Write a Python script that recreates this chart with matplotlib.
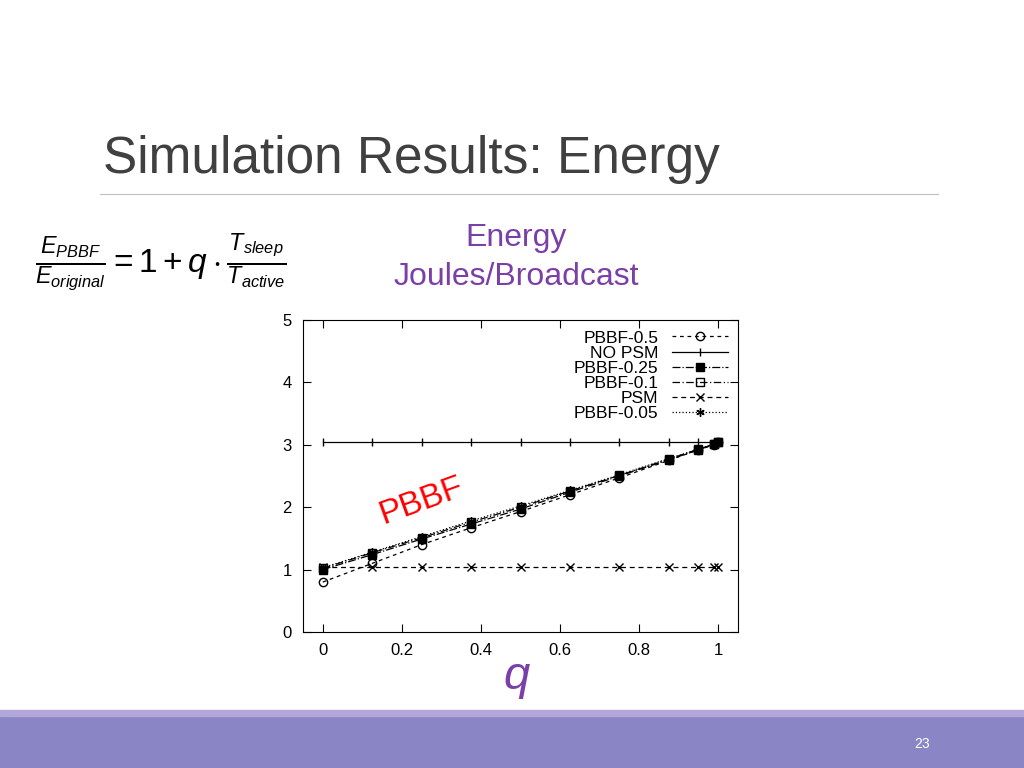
import matplotlib
matplotlib.use("Agg")
import matplotlib.pyplot as plt
from matplotlib.patches import Rectangle
from matplotlib.lines import Line2D

plt.rcParams['font.family'] = ['Liberation Sans', 'DejaVu Sans']
plt.rcParams['mathtext.fontset'] = 'custom'
plt.rcParams['mathtext.rm'] = 'Liberation Sans'
plt.rcParams['mathtext.it'] = 'Liberation Sans:italic'

q = [0, 0.125, 0.25, 0.375, 0.5, 0.625, 0.75, 0.875, 0.95, 0.99, 1.0]
pbbf_05 = [0.80, 1.10, 1.40, 1.67, 1.93, 2.20, 2.47, 2.75, 2.92, 3.00, 3.04]
no_psm = [3.04] * len(q)
pbbf_025 = [1.00, 1.24, 1.49, 1.73, 1.97, 2.24, 2.50, 2.76, 2.92, 3.01, 3.04]
pbbf_01 = [1.02, 1.27, 1.51, 1.76, 2.00, 2.26, 2.51, 2.77, 2.93, 3.01, 3.04]
psm = [1.04] * len(q)
pbbf_005 = [1.03, 1.28, 1.53, 1.78, 2.02, 2.27, 2.52, 2.78, 2.93, 3.01, 3.04]
xticks = [0, 0.2, 0.4, 0.6, 0.8, 1]
yticks = [0, 1, 2, 3, 4, 5]

fig = plt.figure(figsize=(10.24, 7.68), dpi=100)
fig.patch.set_facecolor("white")

fig.add_artist(Rectangle((0, 0), 1, 52/768, transform=fig.transFigure, color="#8a86c6", zorder=0))
fig.add_artist(Rectangle((0, 52/768), 1, 6/768, transform=fig.transFigure, color="#b3a6d8", zorder=0))
fig.text(922/1024, 1-744/768, "23", color="white", fontsize=10, ha="center", va="center")

fig.text(103/1024, 1-160/768, "Simulation Results: Energy", fontsize=37, color="#404040", va="center")
fig.add_artist(Line2D([100/1024, 938/1024], [1-194/768]*2, transform=fig.transFigure, color="#bfbfbf", lw=0.8))

fig.text(35/1024, 1-262/768,
         r"$\frac{E_{PBBF}}{E_{original}} = 1 + q\cdot\frac{T_{sleep}}{T_{active}}$",
         fontsize=24, va="center", color="black")
purple = "#7b3fa8"
fig.text(516/1024, 1-238/768, "Energy", fontsize=23, color=purple, ha="center", va="center")
fig.text(516/1024, 1-277/768, "Joules/Broadcast", fontsize=23, color=purple, ha="center", va="center")
fig.text(517/1024, 1-677/768, "q", fontsize=34, color=purple, style="italic", ha="center", va="center")

ax = fig.add_axes([303/1024, 136/768, 435/1024, 312/768])
k = dict(color="black", lw=0.9, ms=6)
ax.plot(q, pbbf_05, ls=(0, (3, 3)), marker="o", mfc="none", label="PBBF-0.5", **k)
ax.plot(q, no_psm, ls="-", marker="|", label="NO PSM", **k)
ax.plot(q, pbbf_025, ls="-.", marker="s", mfc="black", label="PBBF-0.25", **k)
ax.plot(q, pbbf_01, ls=(0, (6, 2, 1, 2)), marker="s", mfc="none", label="PBBF-0.1", **k)
ax.plot(q, psm, ls=(0, (4, 3)), marker="x", label="PSM", **k)
ax.plot(q, pbbf_005, ls=":", marker=(6, 2, 0), label="PBBF-0.05", **k)
ax.set_xlim(-0.05, 1.05)
ax.set_ylim(0, 5)
ax.set_xticks(xticks, ["0", "0.2", "0.4", "0.6", "0.8", "1"])
ax.set_yticks(yticks)
ax.tick_params(direction="in", top=True, right=True, length=6, labelsize=12, pad=8)
ax.legend(loc="upper right", frameon=False, markerfirst=False, fontsize=12.5,
          handlelength=3.2, labelspacing=0.0, borderaxespad=0.2)
ax.text(0.25, 2.1, "PBBF", color="red", fontsize=24, rotation=20, ha="center", va="center")

fig.savefig("out.png", dpi=100)
